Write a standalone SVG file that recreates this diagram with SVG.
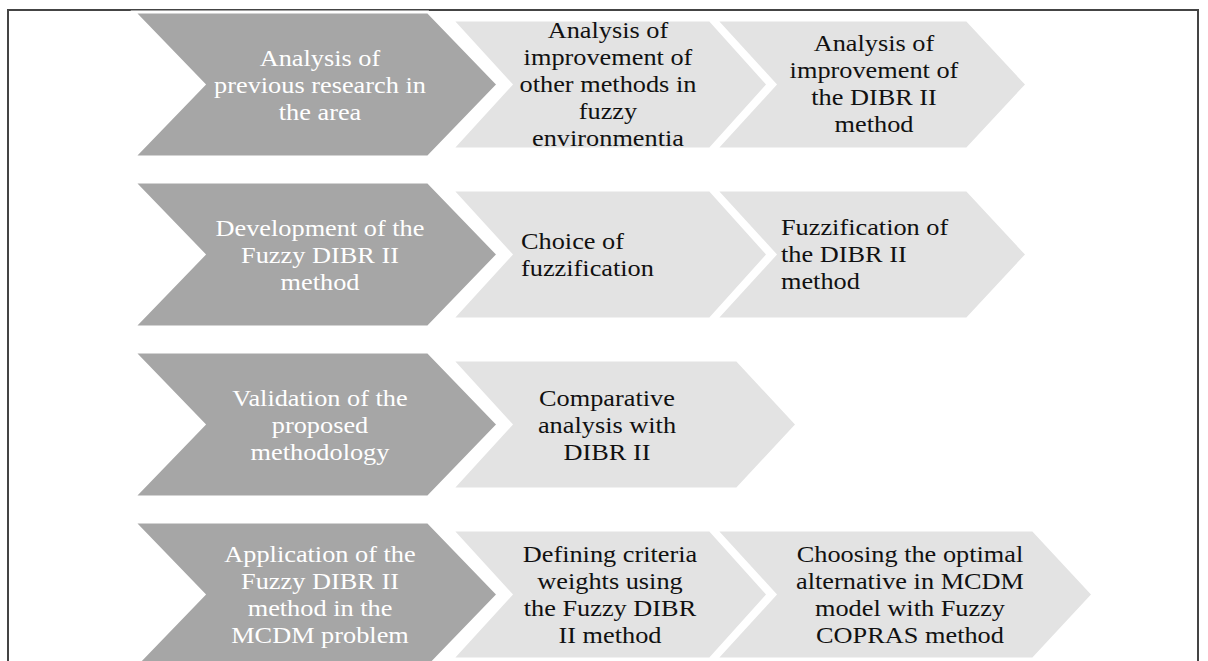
<svg xmlns="http://www.w3.org/2000/svg" width="1208" height="661" viewBox="0 0 1208 661">
<style>
.dark{fill:#a6a6a6;stroke:#fff;stroke-width:3}
.light{fill:#e3e3e3;stroke:#fff;stroke-width:3}
.t{font-family:"Liberation Serif","Times New Roman",serif;font-size:23.5px}
.tw{fill:#fff}
.tb{fill:#111}
.c{text-anchor:middle}
</style>
<rect x="0" y="0" width="1208" height="661" fill="#fff"/>
<rect x="8" y="10" width="1190" height="670" fill="none" stroke="#444" stroke-width="2"/>
<g id="connectors"></g>
<!-- Row 1 -->
<g id="r1l2"><polygon class="light" points="716,20 967,20 1027,84.5 967,149 716,149 775,84.5"/>
<text class="t tb c" transform="matrix(1.12,0,0,1,-104.88,0)"><tspan x="874" y="51">Analysis of</tspan><tspan x="874" y="78">improvement of</tspan><tspan x="874" y="105">the DIBR II</tspan><tspan x="874" y="132">method</tspan></text></g>
<g id="r1l1"><polygon class="light" points="452,20 710,20 768,84.5 710,149 452,149 511,84.5"/>
<text class="t tb c" transform="matrix(1.12,0,0,1,-72.96,0)"><tspan x="608" y="38">Analysis of</tspan><tspan x="608" y="65">improvement of</tspan><tspan x="608" y="92">other methods in</tspan><tspan x="608" y="119">fuzzy</tspan><tspan x="608" y="146">environmentia</tspan></text></g>
<g id="r1d"><polygon class="dark" points="134,12 428,12 498,84.5 428,157 134,157 204,84.5"/>
<text class="t tw c" transform="matrix(1.12,0,0,1,-38.4,0)"><tspan x="320" y="66">Analysis of</tspan><tspan x="320" y="93">previous research in</tspan><tspan x="320" y="120">the area</tspan></text></g>
<!-- Row 2 -->
<g id="r2l2"><polygon class="light" points="716,190 967,190 1027,254.5 967,319 716,319 775,254.5"/>
<text class="t tb" transform="matrix(1.12,0,0,1,-93.72,0)"><tspan x="781" y="235">Fuzzification of</tspan><tspan x="781" y="262">the DIBR II</tspan><tspan x="781" y="289">method</tspan></text></g>
<g id="r2l1"><polygon class="light" points="452,190 710,190 768,254.5 710,319 452,319 511,254.5"/>
<text class="t tb" transform="matrix(1.12,0,0,1,-62.52,0)"><tspan x="521" y="249">Choice of</tspan><tspan x="521" y="276">fuzzification</tspan></text></g>
<g id="r2d"><polygon class="dark" points="134,182 428,182 498,254.5 428,327 134,327 204,254.5"/>
<text class="t tw c" transform="matrix(1.12,0,0,1,-38.4,0)"><tspan x="320" y="236">Development of the</tspan><tspan x="320" y="263">Fuzzy DIBR II</tspan><tspan x="320" y="290">method</tspan></text></g>
<!-- Row 3 -->
<g id="r3l1"><polygon class="light" points="452,360 737,360 797,424.5 737,489 452,489 511,424.5"/>
<text class="t tb c" transform="matrix(1.12,0,0,1,-72.84,0)"><tspan x="607" y="406">Comparative</tspan><tspan x="607" y="433">analysis with</tspan><tspan x="607" y="460">DIBR II</tspan></text></g>
<g id="r3d"><polygon class="dark" points="134,352 428,352 498,424.5 428,497 134,497 204,424.5"/>
<text class="t tw c" transform="matrix(1.12,0,0,1,-38.4,0)"><tspan x="320" y="406">Validation of the</tspan><tspan x="320" y="433">proposed</tspan><tspan x="320" y="460">methodology</tspan></text></g>
<!-- Row 4 -->
<g id="r4l2"><polygon class="light" points="716,530 1033,530 1093,594.5 1033,659 716,659 775,594.5"/>
<text class="t tb c" transform="matrix(1.12,0,0,1,-109.2,0)"><tspan x="910" y="562">Choosing the optimal</tspan><tspan x="910" y="589">alternative in MCDM</tspan><tspan x="910" y="616">model with Fuzzy</tspan><tspan x="910" y="643">COPRAS method</tspan></text></g>
<g id="r4l1"><polygon class="light" points="452,530 710,530 768,594.5 710,659 452,659 511,594.5"/>
<text class="t tb c" transform="matrix(1.12,0,0,1,-73.2,0)"><tspan x="610" y="562">Defining criteria</tspan><tspan x="610" y="589">weights using</tspan><tspan x="610" y="616">the Fuzzy DIBR</tspan><tspan x="610" y="643">II method</tspan></text></g>
<g id="r4d"><polygon class="dark" points="134,522 428,522 498,594.5 428,667 134,667 204,594.5"/>
<text class="t tw c" transform="matrix(1.12,0,0,1,-38.4,0)"><tspan x="320" y="562">Application of the</tspan><tspan x="320" y="589">Fuzzy DIBR II</tspan><tspan x="320" y="616">method in the</tspan><tspan x="320" y="643">MCDM problem</tspan></text></g>
</svg>
